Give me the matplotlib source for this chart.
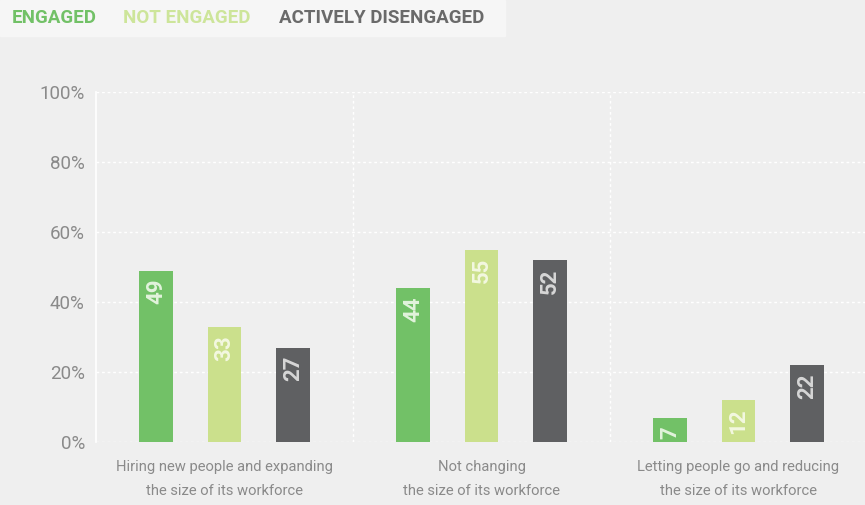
import numpy as np
import matplotlib.pyplot as plt

# Dados
categorias = ['Hiring new people and expanding\nthe size of its workforce',
              'Not changing\nthe size of its workforce',
              'Letting people go and reducing\nthe size of its workforce']
series = ['ENGAGED', 'NOT ENGAGED', 'ACTIVELY DISENGAGED']
engaged = [49, 44, 7]
not_engaged = [33, 55, 12]
disengaged = [27, 52, 22]
yticks = [0, 20, 40, 60, 80, 100]

cores = ['#72c167', '#cbe08c', '#5f6062']
cores_texto = ['#e2f3dc', '#f3f8e0', '#d6d6d6']
cores_legenda = ['#72c167', '#cde59a', '#6a6a6a']

fonte = ['Roboto', 'DejaVu Sans']

fig = plt.figure(figsize=(8.65, 5.05), dpi=100)
fig.patch.set_facecolor('#efefef')
ax = fig.add_axes([96/865, 63/505, 769/865, 350/505])
ax.set_facecolor('#efefef')

x = np.arange(len(categorias))
largura = 0.132
passo = 0.267
valores = [engaged, not_engaged, disengaged]
for i, (v, c, ct) in enumerate(zip(valores, cores, cores_texto)):
    pos = x + (i - 1) * passo
    ax.bar(pos, v, width=largura, color=c, zorder=3)
    for p, val in zip(pos, v):
        ax.text(p, val - 2.4, str(val), rotation=90, ha='center', va='top',
                color=ct, fontsize=16, fontweight='bold', family=fonte, zorder=4)

ax.set_ylim(0, 100)
ax.set_xlim(-0.5, -0.5 + 769/257)
ax.set_yticks(yticks)
ax.set_yticklabels([f'{t}%' for t in yticks])
ax.set_xticks(x)
ax.set_xticklabels(categorias)
for lbl in ax.get_yticklabels():
    lbl.set_family(fonte)
    lbl.set_fontsize(13.5)
    lbl.set_color('#8a8a8a')
for lbl in ax.get_xticklabels():
    lbl.set_family(fonte)
    lbl.set_fontsize(10.6)
    lbl.set_color('#8a8a8a')
    lbl.set_linespacing(1.9)
ax.tick_params(length=0, axis='y', pad=8)
ax.tick_params(length=0, axis='x', pad=13)

for y in yticks:
    ax.axhline(y, color='white', lw=1, ls=(0, (2, 2)), zorder=1)
for xs in [0.5, 1.5]:
    ax.axvline(xs, color='white', lw=1, ls=(0, (2, 2)), zorder=1)
for s in ['top', 'right', 'bottom']:
    ax.spines[s].set_visible(False)
ax.spines['left'].set_color('white')
ax.spines['left'].set_linewidth(1.2)

# Legenda
fig.patches.append(plt.Rectangle((0, 1 - 36/505), 505/865, 36/505,
                                 transform=fig.transFigure, color='#f6f6f6', zorder=0))
xs_leg = [12, 123, 279]
for xl, s, c in zip(xs_leg, series, cores_legenda):
    fig.text(xl/865, 1 - 18/505, s, color=c, fontsize=13.5, fontweight='bold',
             family=fonte, va='center', ha='left')

plt.savefig('out.png', dpi=100, facecolor=fig.get_facecolor())
